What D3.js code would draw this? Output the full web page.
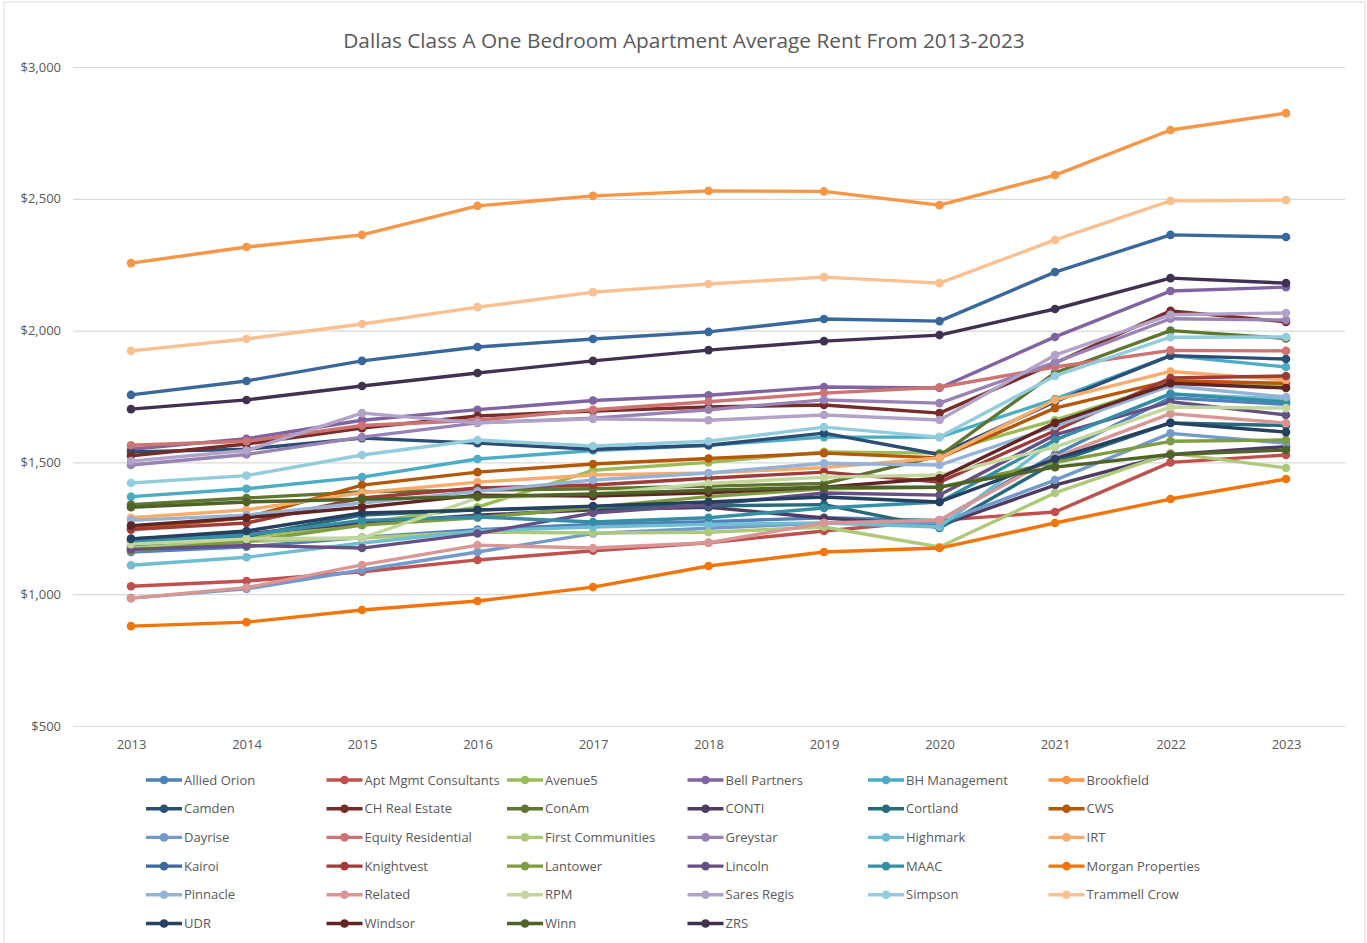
<!DOCTYPE html>
<html>
<head>
<meta charset="utf-8">
<script src="https://cdn.jsdelivr.net/npm/d3@7"></script>
<style>
  body { margin: 0; background: #fff; }
  text { font-family: "Open Sans", "Noto Sans", sans-serif; }
</style>
</head>
<body>
<div id="chart"></div>
<script>
const width = 1367;
const height = 943;

const years = [2013, 2014, 2015, 2016, 2017, 2018, 2019, 2020, 2021, 2022, 2023];
const yTicks = [500, 1000, 1500, 2000, 2500, 3000];

const names = [
  "Allied Orion", "Apt Mgmt Consultants", "Avenue5", "Bell Partners", "BH Management", "Brookfield",
  "Camden", "CH Real Estate", "ConAm", "CONTI", "Cortland", "CWS",
  "Dayrise", "Equity Residential", "First Communities", "Greystar", "Highmark", "IRT",
  "Kairoi", "Knightvest", "Lantower", "Lincoln", "MAAC", "Morgan Properties",
  "Pinnacle", "Related", "RPM", "Sares Regis", "Simpson", "Trammell Crow",
  "UDR", "Windsor", "Winn", "ZRS"
];

// average rent per company, 2013..2023
const rents = [
  [1160, 1180, 1215, 1245, 1265, 1275, 1290, 1280, 1530, 1745, 1720],
  [1030, 1050, 1085, 1130, 1165, 1195, 1240, 1280, 1312, 1500, 1528],
  [1175, 1215, 1270, 1330, 1470, 1500, 1540, 1535, 1660, 1800, 1790],
  [1550, 1590, 1660, 1700, 1735, 1755, 1786, 1782, 1976, 2150, 2165],
  [1370, 1400, 1444, 1513, 1545, 1565, 1596, 1596, 1740, 1905, 1862],
  [2256, 2317, 2363, 2473, 2511, 2530, 2528, 2476, 2590, 2761, 2825],
  [1540, 1550, 1592, 1573, 1550, 1565, 1611, 1530, 1730, 1905, 1892],
  [1525, 1570, 1630, 1676, 1695, 1710, 1718, 1687, 1877, 2075, 2033],
  [1340, 1365, 1388, 1395, 1400, 1410, 1420, 1525, 1840, 2000, 1970],
  [1210, 1230, 1270, 1300, 1320, 1330, 1289, 1260, 1414, 1530, 1560],
  [1185, 1220, 1300, 1320, 1330, 1335, 1340, 1251, 1500, 1650, 1640],
  [1250, 1290, 1414, 1463, 1494, 1515, 1535, 1517, 1706, 1810, 1800],
  [985, 1020, 1092, 1160, 1230, 1250, 1270, 1270, 1433, 1610, 1573],
  [1565, 1580, 1640, 1660, 1700, 1730, 1763, 1785, 1862, 1925, 1923],
  [1175, 1200, 1213, 1236, 1232, 1235, 1255, 1179, 1384, 1535, 1479],
  [1490, 1530, 1596, 1650, 1668, 1700, 1737, 1725, 1880, 2045, 2040],
  [1110, 1140, 1194, 1240, 1255, 1265, 1270, 1255, 1585, 1760, 1740],
  [1290, 1320, 1385, 1425, 1452, 1460, 1480, 1517, 1737, 1845, 1813],
  [1756, 1809, 1885, 1938, 1968, 1995, 2044, 2036, 2222, 2363, 2355],
  [1245, 1270, 1365, 1403, 1414, 1440, 1463, 1425, 1620, 1820, 1828],
  [1165, 1200, 1262, 1290, 1330, 1370, 1400, 1406, 1500, 1580, 1585],
  [1170, 1185, 1175, 1230, 1308, 1340, 1384, 1376, 1604, 1730, 1680],
  [1200, 1225, 1280, 1293, 1274, 1290, 1327, 1350, 1585, 1760, 1729],
  [879, 894, 940, 974, 1027, 1107, 1160, 1175, 1270, 1361, 1437],
  [1280, 1300, 1346, 1390, 1433, 1460, 1497, 1490, 1638, 1790, 1748],
  [985, 1025, 1111, 1186, 1175, 1195, 1270, 1281, 1520, 1685, 1649],
  [1190, 1210, 1213, 1365, 1380, 1420, 1444, 1452, 1558, 1710, 1706],
  [1505, 1545, 1687, 1650, 1665, 1660, 1680, 1661, 1907, 2060, 2067],
  [1422, 1450, 1528, 1585, 1562, 1580, 1634, 1596, 1828, 1975, 1976],
  [1923, 1968, 2025, 2089, 2146, 2177, 2203, 2180, 2344, 2492, 2495],
  [1210, 1240, 1308, 1319, 1334, 1350, 1369, 1350, 1513, 1650, 1615],
  [1260, 1290, 1330, 1376, 1372, 1385, 1406, 1440, 1650, 1800, 1782],
  [1330, 1350, 1360, 1370, 1380, 1395, 1406, 1406, 1482, 1530, 1547],
  [1702, 1737, 1790, 1839, 1885, 1926, 1960, 1983, 2082, 2199, 2180]
];

// office theme accents, then shaded the way the spreadsheet does for series 7+
const accents = ["#4F81BD", "#C0504D", "#9BBB59", "#8064A2", "#4BACC6", "#F79646"];
const shades = [[1, 0], [0.6, 0], [0.8, 0.2], [0.8, 0], [0.6, 0.4], [0.5, 0]];

function seriesColor(i) {
  const c = d3.hsl(accents[i % 6]);
  const s = shades[Math.floor(i / 6)];
  c.l = c.l * s[0] + s[1];
  return c.formatHex();
}

const series = names.map((name, i) => ({
  name: name,
  color: seriesColor(i),
  values: years.map((y, j) => ({ year: y, rent: rents[i][j] }))
}));

const svg = d3.select("#chart")
  .append("svg")
  .attr("width", width)
  .attr("height", height);

svg.append("rect")
  .attr("x", 4).attr("y", 2)
  .attr("width", width - 6).attr("height", height + 10)
  .attr("fill", "#fff")
  .attr("stroke", "#d9d9d9");

const xScale = d3.scalePoint()
  .domain(years)
  .range([131, 1286]);

const yScale = d3.scaleLinear()
  .domain([500, 3000])
  .range([726, 67]);

svg.append("text")
  .attr("x", 684)
  .attr("y", 48)
  .attr("text-anchor", "middle")
  .attr("font-size", 20.8)
  .attr("fill", "#595959")
  .text("Dallas Class A One Bedroom Apartment Average Rent From 2013-2023");

// gridlines + y labels
const yAxis = d3.axisLeft(yScale)
  .tickValues(yTicks)
  .tickSize(-(1345 - 73))
  .tickPadding(12)
  .tickFormat(d3.format("$,"));

const gy = svg.append("g")
  .attr("transform", "translate(73,0)")
  .call(yAxis);
gy.select(".domain").remove();
gy.selectAll(".tick line").attr("stroke", "#d9d9d9").attr("stroke-width", 1.2);
gy.selectAll(".tick text")
  .attr("font-size", 13)
  .attr("fill", "#595959")
  .attr("font-family", "Open Sans, sans-serif");

const xAxis = d3.axisBottom(xScale).tickSize(0).tickPadding(14);
const gx = svg.append("g")
  .attr("transform", "translate(0,726)")
  .call(xAxis);
gx.select(".domain").remove();
gx.selectAll(".tick text")
  .attr("font-size", 13)
  .attr("fill", "#595959")
  .attr("font-family", "Open Sans, sans-serif");

const line = d3.line()
  .x(d => xScale(d.year))
  .y(d => yScale(d.rent));

const sg = svg.selectAll(".series")
  .data(series)
  .enter()
  .append("g")
  .attr("class", "series");

sg.append("path")
  .attr("d", d => line(d.values))
  .attr("fill", "none")
  .attr("stroke", d => d.color)
  .attr("stroke-width", 3.4)
  .attr("stroke-linejoin", "round");

sg.selectAll("circle")
  .data(d => d.values.map(v => ({ ...v, color: d.color })))
  .enter()
  .append("circle")
  .attr("cx", d => xScale(d.year))
  .attr("cy", d => yScale(d.rent))
  .attr("r", 4.3)
  .attr("fill", d => d.color);

// legend, 6 per row
const legend = svg.selectAll(".legend")
  .data(series)
  .enter()
  .append("g")
  .attr("class", "legend")
  .attr("transform", (d, i) => `translate(${146 + (i % 6) * 180.5},${780 + Math.floor(i / 6) * 28.7})`);

legend.append("line")
  .attr("x1", 0).attr("x2", 36)
  .attr("stroke", d => d.color)
  .attr("stroke-width", 3.4);

legend.append("circle")
  .attr("cx", 18)
  .attr("r", 4.3)
  .attr("fill", d => d.color);

legend.append("text")
  .attr("x", 38)
  .attr("dy", "0.35em")
  .attr("font-size", 13)
  .attr("fill", "#595959")
  .text(d => d.name);
</script>
</body>
</html>
